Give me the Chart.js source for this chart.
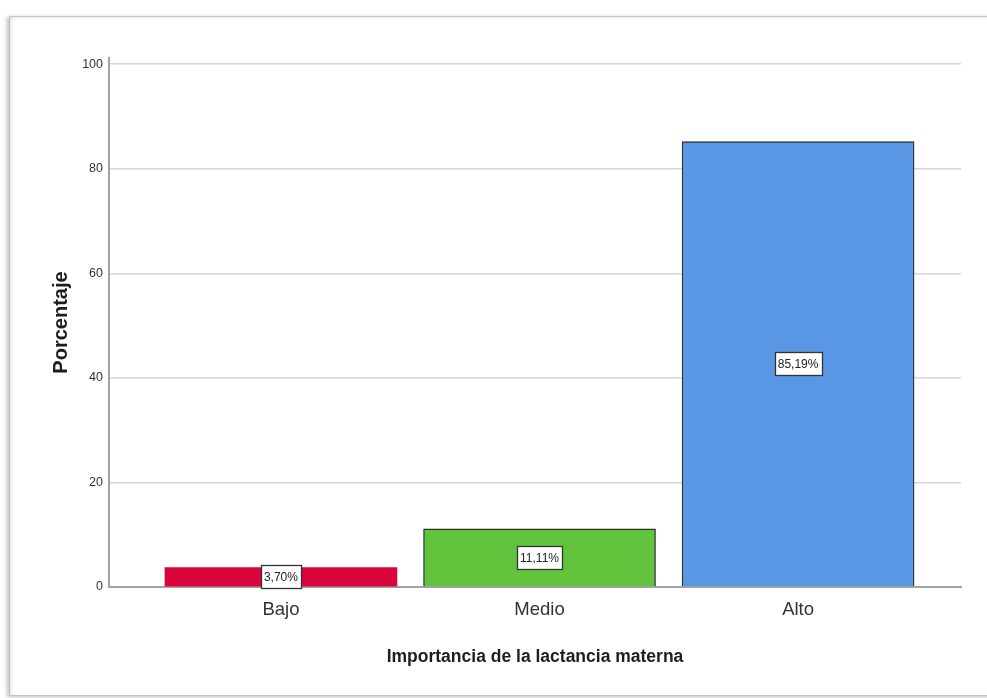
<!DOCTYPE html>
<html>
<head>
<meta charset="utf-8">
<script src="https://cdn.jsdelivr.net/npm/chart.js@4/dist/chart.umd.min.js"></script>
<style>
  html, body { margin: 0; padding: 0; background: #fff; overflow: hidden; }
  #frame {
    position: absolute; left: 9px; top: 16px; width: 1000px; height: 678px;
    border: 1px solid #c4c4c4;
    box-shadow: -2px 1px 4px rgba(0,0,0,0.25), inset 3px 2px 4px -2px rgba(0,0,0,0.15);
  }
  #chart { position: absolute; left: 0; top: 0; }
</style>
</head>
<body>
<div id="frame"></div>
<canvas id="chart" width="987" height="698"></canvas>
<script>
// data
const categories = ["Bajo", "Medio", "Alto"];
const percentages = [3.70, 11.11, 85.19];
const yTicks = [0, 20, 40, 60, 80, 100];

const barColors = ["#d8043a", "#62c33c", "#5a98e6"];
const barBorders = ["#d8043a", "#2e2e2e", "#2e2e2e"];
const barBorderWidths = [0, 1.3, 1.3];

const font = '"Liberation Sans", Arial, sans-serif';

function fmtPct(v) {
  return v.toFixed(2).replace(".", ",") + "%";
}

// white boxed labels in the middle of each bar
const valueBoxes = {
  id: "valueBoxes",
  afterDatasetsDraw(chart) {
    const ctx = chart.ctx;
    const meta = chart.getDatasetMeta(0);
    ctx.save();
    ctx.font = "12px " + font;
    ctx.textAlign = "center";
    ctx.textBaseline = "middle";
    meta.data.forEach((bar, i) => {
      const text = fmtPct(percentages[i]);
      const cx = bar.x;
      const cy = (bar.y + bar.base) / 2;
      const w = Math.round(ctx.measureText(text).width + 6);
      const h = 23;
      const x0 = Math.round(cx - w / 2) + 0.5;
      const y0 = Math.round(cy - h / 2) + 0.5;
      ctx.fillStyle = "#ffffff";
      ctx.fillRect(x0, y0, w, h);
      ctx.strokeStyle = "#333333";
      ctx.lineWidth = 1.3;
      ctx.strokeRect(x0, y0, w, h);
      ctx.fillStyle = "#222222";
      ctx.fillText(text, cx, cy + 1);
    });
    ctx.restore();
  }
};

new Chart(document.getElementById("chart"), {
  type: "bar",
  data: {
    datasets: [{
      data: percentages.map((v, i) => ({ x: i + 1, y: v })),
      backgroundColor: barColors,
      borderColor: barBorders,
      borderWidth: barBorderWidths,
      barThickness: 232
    }]
  },
  options: {
    responsive: false,
    animation: false,
    layout: { padding: { left: 42, right: 26, top: 58, bottom: 26 } },
    plugins: {
      legend: { display: false },
      tooltip: { enabled: false }
    },
    scales: {
      x: {
        type: "linear",
        offset: false,
        min: 0.335,
        max: 3.63,
        afterBuildTicks: s => { s.ticks = categories.map((c, i) => ({ value: i + 1 })); },
        afterFit: s => { s.height = 85; },
        grid: { display: false, drawTicks: false },
        border: { display: true, color: "#a3a3a3", width: 2 },
        ticks: {
          callback: v => categories[Math.round(v) - 1],
          autoSkip: false,
          maxRotation: 0,
          padding: 12,
          color: "#333333",
          font: { family: font, size: 18.5 }
        },
        title: {
          display: true,
          text: "Importancia de la lactancia materna",
          color: "#1e1e1e",
          font: { family: font, size: 17.5, weight: "bold" },
          padding: { top: 0, bottom: 4 }
        }
      },
      y: {
        min: 0,
        max: 101.2,
        afterBuildTicks: s => { s.ticks = yTicks.map(v => ({ value: v })); },
        afterFit: s => { s.width = 67; },
        grid: { color: "#d6d6d6", lineWidth: 1.6, drawTicks: false },
        border: { display: true, color: "#a3a3a3", width: 2 },
        ticks: {
          padding: 6,
          color: "#333333",
          font: { family: font, size: 12.5 }
        },
        title: {
          display: true,
          text: "Porcentaje",
          color: "#1e1e1e",
          font: { family: font, size: 20, weight: "bold" },
          padding: { top: 7, bottom: 0 }
        }
      }
    }
  },
  plugins: [valueBoxes]
});
</script>
</body>
</html>
